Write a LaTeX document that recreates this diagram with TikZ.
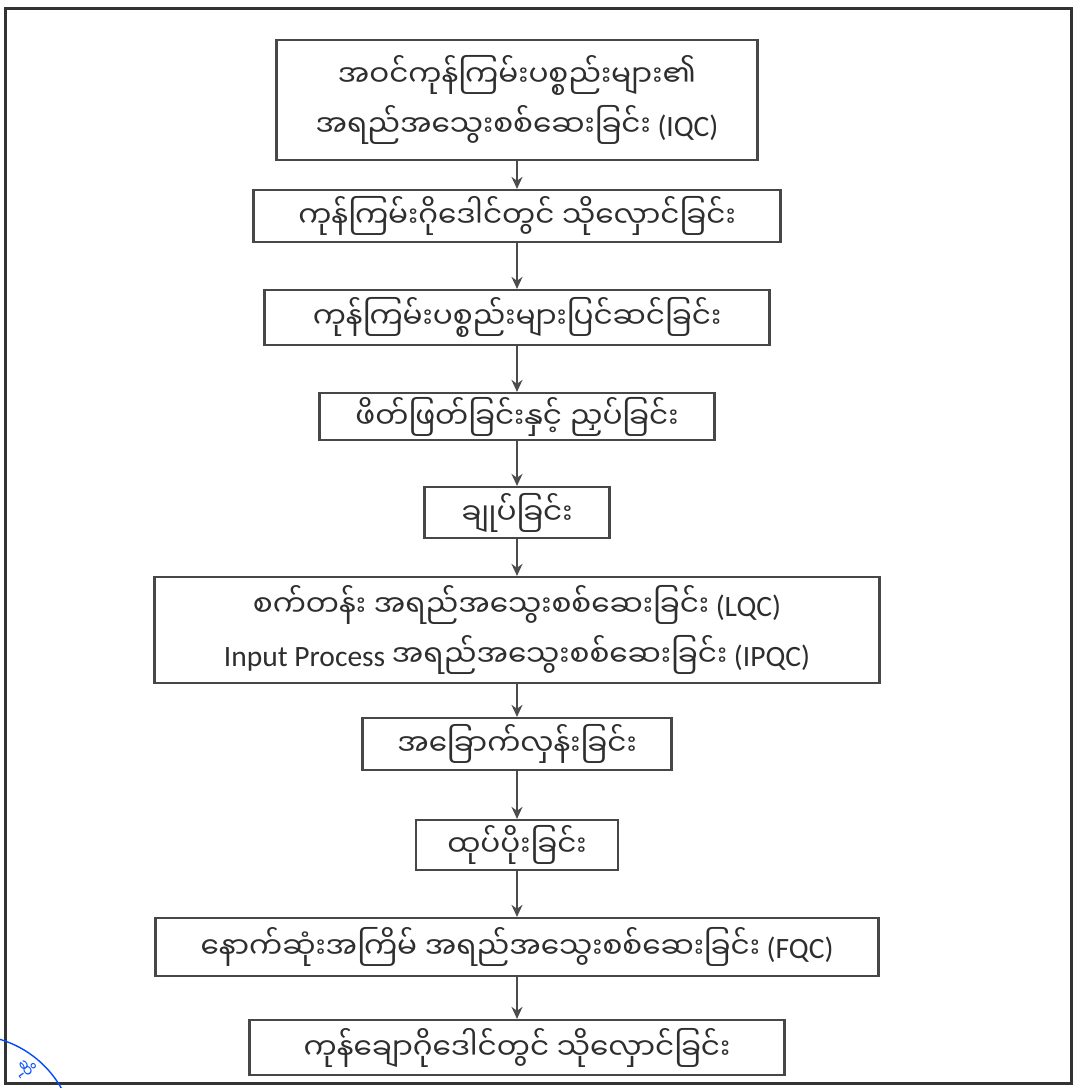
\documentclass[tikz,border=0pt]{standalone}
\usepackage{fontspec}
\setmainfont{Carlito}
\newfontfamily\my[Script=Myanmar]{Noto Sans Myanmar UI}
\usetikzlibrary{arrows.meta}
\begin{document}
\begin{tikzpicture}[x=1pt,y=-1pt,
  box/.style={draw=black!72, line width=2.2pt, inner sep=0pt, align=center,
    font=\fontsize{29.5}{50}\selectfont, text=black!82},
  arr/.style={draw=black!70, line width=2.4pt, -{Stealth[length=12pt,width=11pt]}},
  stamp/.style={draw=blue!70!cyan, line width=1.4pt}]
\useasboundingbox (0,0) rectangle (1073,1088);
\fill[white] (0,0) rectangle (1073,1088);
\draw[line width=3pt, black!80] (5,8) -- (1071,8) -- (1071,1083) -- (5,1083) -- cycle;

\node[box, minimum width=481pt, minimum height=120pt] (b1) at (517,100)
  {{\my အဝင်ကုန်ကြမ်းပစ္စည်းများ၏}\\{\my အရည်အသွေးစစ်ဆေးခြင်း} (IQC)};
\node[box, minimum width=527pt, minimum height=52pt] (b2) at (517,216)
  {{\my ကုန်ကြမ်းဂိုဒေါင်တွင် သိုလှောင်ခြင်း}};
\node[box, minimum width=505pt, minimum height=55pt] (b3) at (517,317.5)
  {{\my ကုန်ကြမ်းပစ္စည်းများပြင်ဆင်ခြင်း}};
\node[box, minimum width=395pt, minimum height=47pt] (b4) at (517,416.5)
  {{\my ဖိတ်ဖြတ်ခြင်းနှင့် ညှပ်ခြင်း}};
\node[box, minimum width=185pt, minimum height=51pt] (b5) at (517,512.5)
  {{\my ချုပ်ခြင်း}};
\node[box, minimum width=725pt, minimum height=106pt] (b6) at (517,630)
  {{\my စက်တန်း အရည်အသွေးစစ်ဆေးခြင်း} (LQC)\\Input Process {\my အရည်အသွေးစစ်ဆေးခြင်း} (IPQC)};
\node[box, minimum width=309pt, minimum height=52pt] (b7) at (517,744)
  {{\my အခြောက်လှန်းခြင်း}};
\node[box, minimum width=202pt, minimum height=50pt] (b8) at (517,845)
  {{\my ထုပ်ပိုးခြင်း}};
\node[box, minimum width=723pt, minimum height=58pt] (b9) at (517,947)
  {{\my နောက်ဆုံးအကြိမ် အရည်အသွေးစစ်ဆေးခြင်း} (FQC)};
\node[box, minimum width=535pt, minimum height=55pt] (b10) at (517,1047.5)
  {{\my ကုန်ချောဂိုဒေါင်တွင် သိုလှောင်ခြင်း}};

\draw[arr] (b1.south) -- (b2.north);
\draw[arr] (b2.south) -- (b3.north);
\draw[arr] (b3.south) -- (b4.north);
\draw[arr] (b4.south) -- (b5.north);
\draw[arr] (b5.south) -- (b6.north);
\draw[arr] (b6.south) -- (b7.north);
\draw[arr] (b7.south) -- (b8.north);
\draw[arr] (b8.south) -- (b9.north);
\draw[arr] (b9.south) -- (b10.north);

% partial blue stamp at the lower left corner
\draw[stamp] (-30,1140) circle[radius=105pt];
\node[text=blue!70!cyan, rotate=-55, font=\my\fontsize{15}{15}\selectfont, inner sep=0pt]
  (stamptext) at (26,1068) {ဆို};
\end{tikzpicture}
\end{document}
